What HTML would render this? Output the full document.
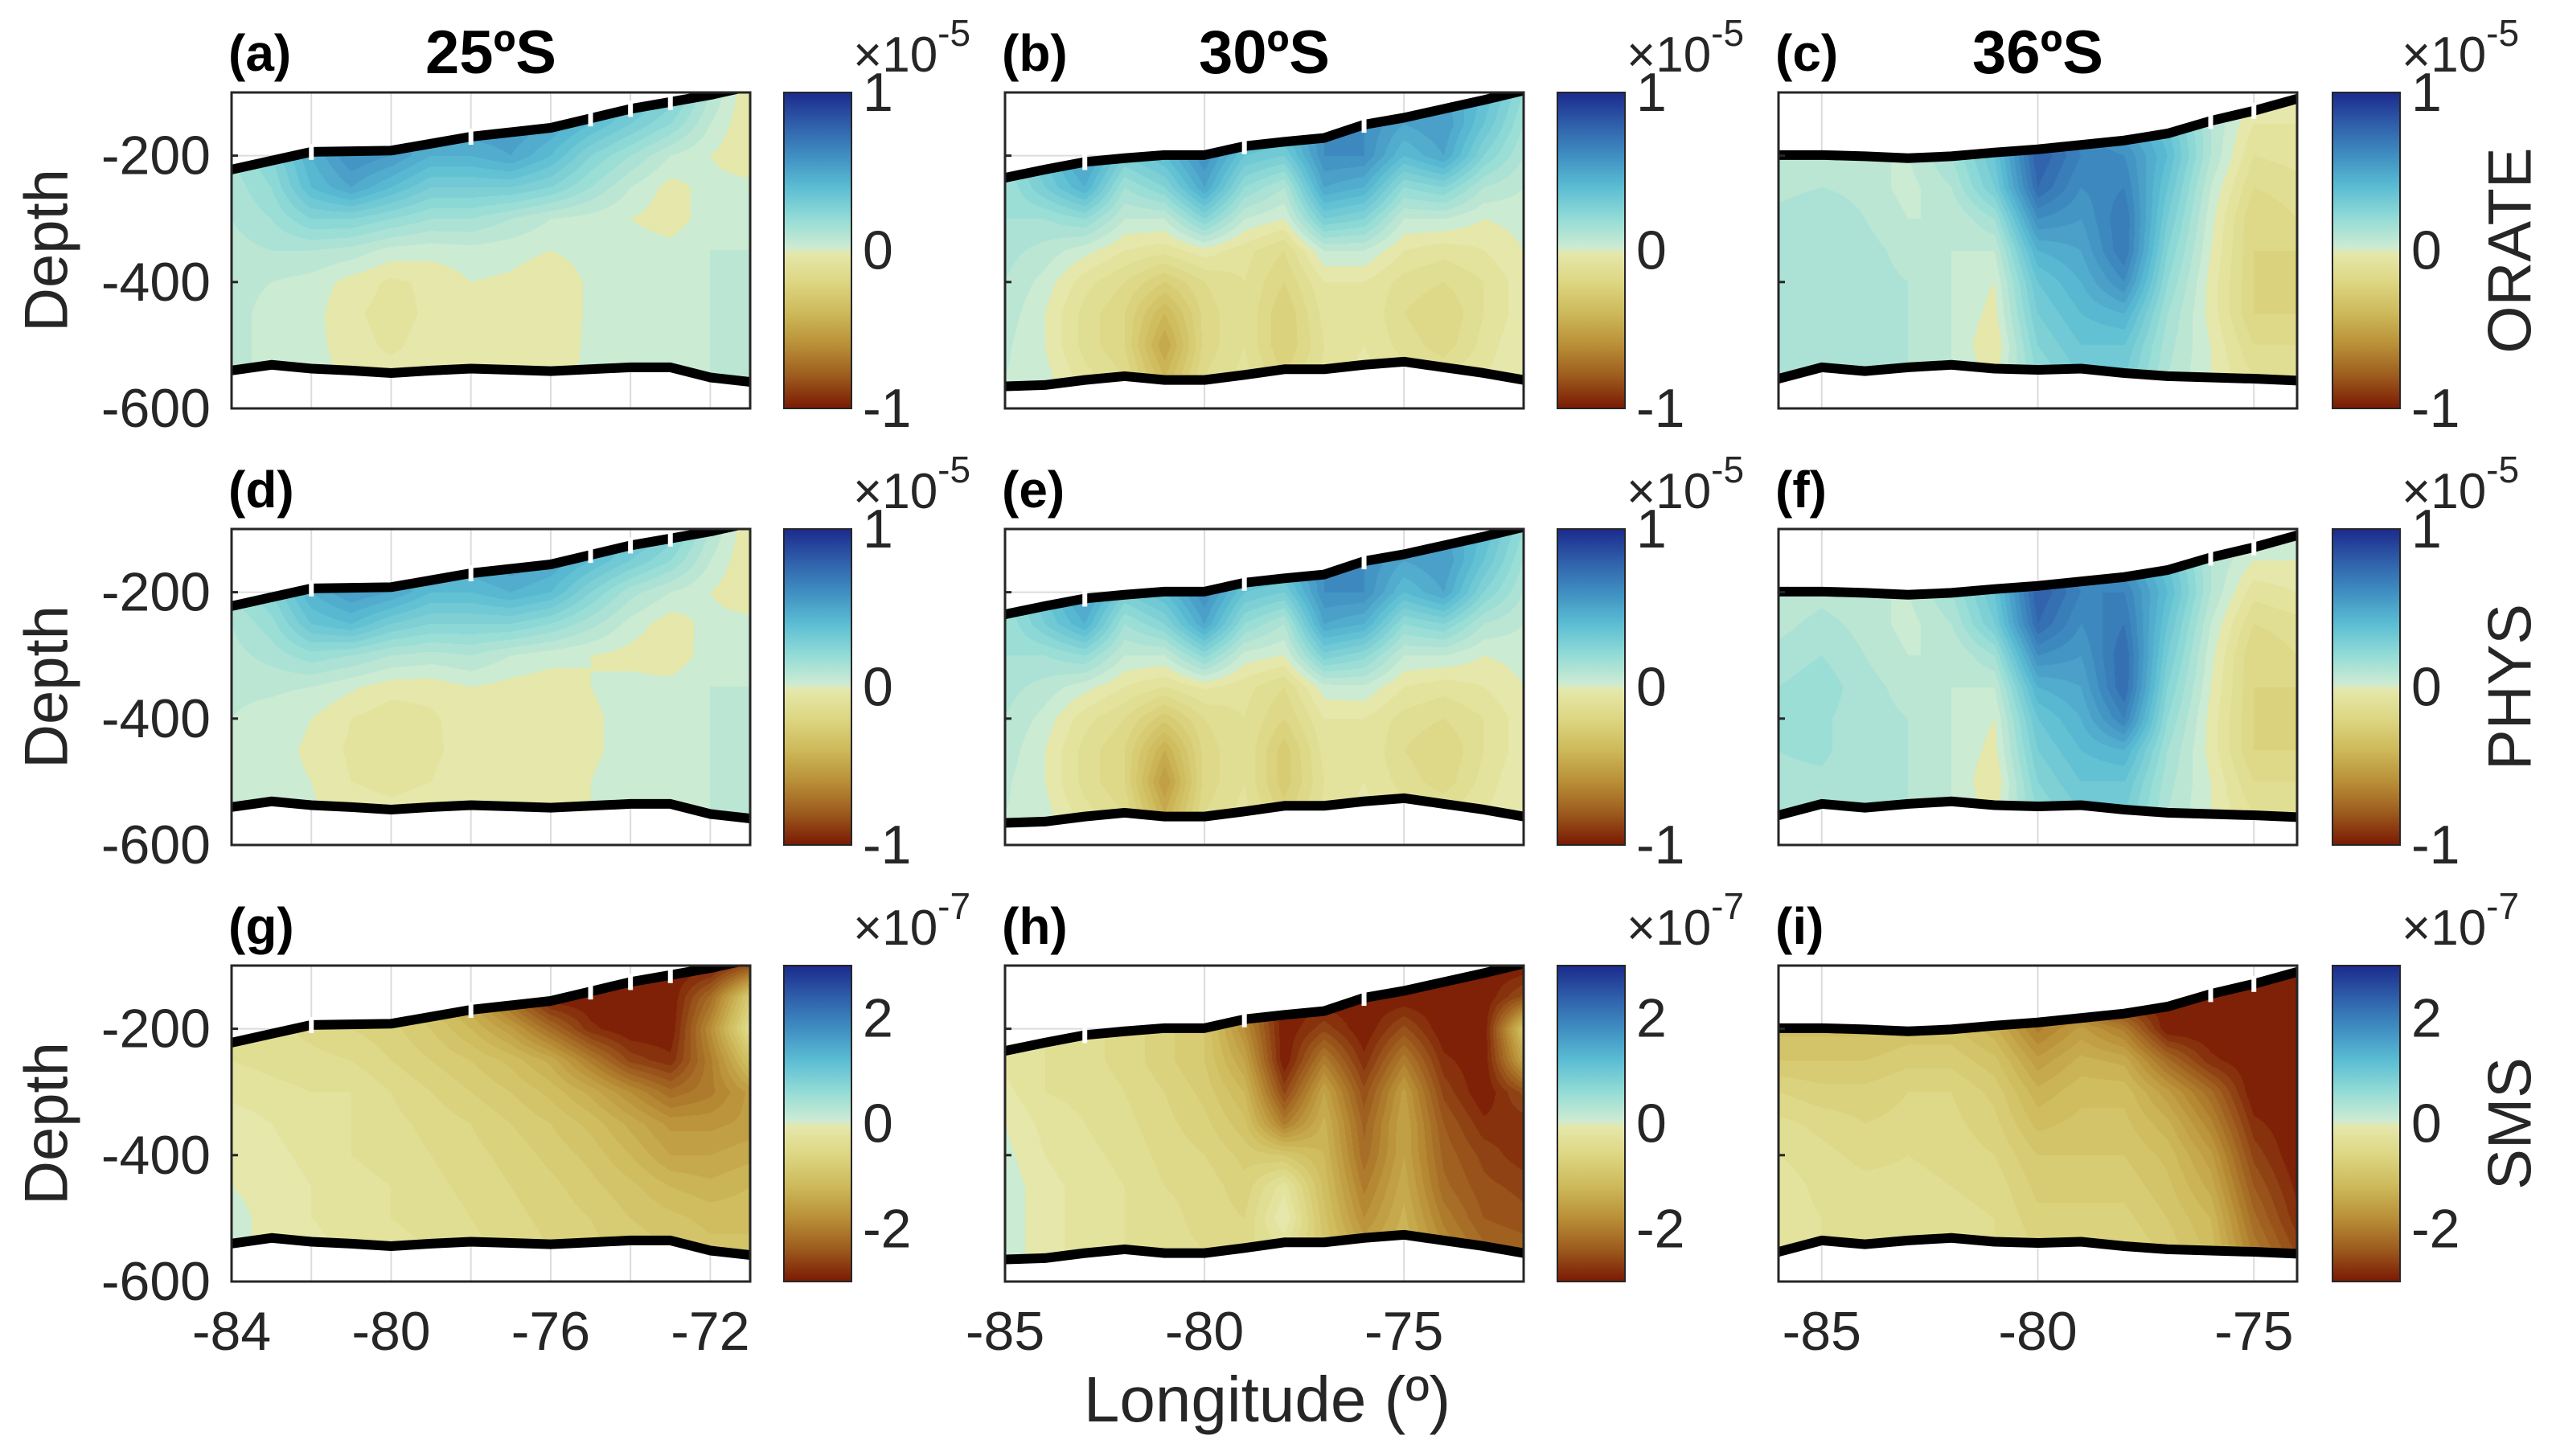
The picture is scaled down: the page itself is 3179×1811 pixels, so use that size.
<!DOCTYPE html>
<html><head><meta charset="utf-8"><style>
html,body{margin:0;padding:0;background:#fff;}
#wrap{position:relative;width:3179px;height:1811px;background:#fff;}
#cv{position:absolute;left:0;top:0;}
#fig{position:absolute;left:0;top:0;display:block;font-family:"Liberation Sans","DejaVu Sans",sans-serif;}
</style></head><body>
<div id="wrap">
<canvas id="cv" width="3179" height="1811"></canvas>
<svg id="fig" width="3179" height="1811" viewBox="0 0 3179 1811" xmlns="http://www.w3.org/2000/svg">
<defs>
<linearGradient id="cmap" x1="0" y1="0" x2="0" y2="1"></linearGradient>
</defs>
</svg>
</div>
<script>
// ---- data ----
const depths = [-100,-150,-200,-250,-300,-350,-400,-450,-500,-550];
const lonRangeA = [-84,-71];
const lonRangeB = [-85,-72];
const lonRangeC = [-86,-74];
const topA = [-222,-208,-194,-193,-192,-181,-170,-163,-156,-141,-126,-115,-104,-90];
const botA = [-540,-531,-537,-540,-544,-540,-537,-539,-541,-538,-535,-535,-551,-558];
const topB = [-235,-222,-210,-204,-199,-199,-185,-178,-172,-151,-140,-126,-112,-97];
const botB = [-565,-563,-555,-549,-555,-555,-547,-538,-538,-531,-526,-535,-544,-555];
const topC = [-199,-199,-201,-204,-201,-195,-190,-183,-176,-165,-145,-129,-110];
const botC = [-553,-535,-541,-535,-531,-537,-539,-537,-544,-549,-551,-553,-556];
const gapLonA = [-82,-78,-75,-74,-73];
const gapLonB = [-83,-79,-76];
const gapLonC = [-76,-75];
const xTicksA = [-84,-80,-76,-72];
const xTicksB = [-85,-80,-75];
const xTicksC = [-85,-80,-75];
const xGridA = [-82,-80,-78,-76,-74,-72];
const yTicks = [-200,-400,-600];
const cbTicks1 = [1,0,-1];
const cbTicks3 = [2,0,-2];
const colTitles = ['25ºS','30ºS','36ºS'];
const rowNames = ['ORATE','PHYS','SMS'];
const panelLetters = ['(a)','(b)','(c)','(d)','(e)','(f)','(g)','(h)','(i)'];

const orateA = [
[.2,.2,.3,.3,.4,.4,.45,.5,.5,.45,.4,.3,.1,-.05],
[.2,.25,.35,.45,.5,.55,.55,.55,.5,.4,.3,.2,.05,-.05],
[.15,.25,.45,.6,.55,.45,.45,.5,.4,.25,.15,.05,0,-.05],
[.12,.2,.4,.5,.4,.3,.3,.3,.25,.15,.05,-.02,.02,.02],
[.1,.15,.25,.25,.2,.15,.15,.1,.05,.03,0,-.03,.03,.05],
[.08,.1,.1,.08,.03,.02,.03,.02,0,.02,.03,.02,.05,.05],
[.06,.05,.03,-.02,-.06,-.04,0,-.01,-.04,.01,.03,.03,.05,.05],
[.06,.04,.02,-.04,-.07,-.04,-.01,-.01,-.04,.01,.03,.03,.05,.05],
[.06,.04,.02,-.03,-.06,-.03,-.01,0,-.03,.01,.03,.03,.05,.05],
[.06,.04,.03,-.02,-.03,-.02,0,0,-.02,.01,.03,.03,.05,.05]];
const orateB = [
[.2,.3,.4,.4,.5,.5,.5,.5,.55,.6,.55,.5,.4,.2],
[.2,.3,.45,.4,.5,.5,.5,.45,.6,.6,.5,.55,.35,.15],
[.2,.35,.55,.3,.4,.6,.35,.3,.6,.6,.4,.5,.25,.1],
[.15,.3,.45,.15,.25,.5,.2,.1,.5,.45,.2,.25,.1,.05],
[.15,.15,.2,.05,.05,.25,.05,0,.3,.25,.05,.05,0,.02],
[.12,.08,.02,-.05,-.08,-.02,-.08,-.15,.05,.05,-.05,-.08,-.05,0],
[.1,.03,-.08,-.15,-.25,-.15,-.1,-.2,-.05,-.05,-.12,-.15,-.1,-.02],
[.08,0,-.12,-.2,-.4,-.18,-.1,-.25,-.08,-.05,-.15,-.2,-.1,-.02],
[.06,0,-.12,-.2,-.5,-.18,-.1,-.25,-.1,-.05,-.12,-.18,-.08,0],
[.05,.02,-.08,-.15,-.4,-.15,-.08,-.2,-.08,-.03,-.08,-.1,-.05,0]];
const orateC = [
[.1,.1,.1,.1,.1,.2,.5,.5,.4,.3,.1,0,-.05],
[.1,.1,.1,.1,.15,.3,.7,.6,.5,.35,.1,-.05,-.05],
[.05,.08,.05,.05,.15,.35,.8,.65,.6,.4,.1,-.1,-.08],
[.08,.1,.08,.03,.1,.3,.75,.6,.65,.35,.05,-.15,-.12],
[.12,.15,.1,.05,.05,.15,.6,.55,.7,.3,.02,-.2,-.15],
[.12,.15,.12,.08,.05,.05,.45,.5,.7,.25,0,-.2,-.2],
[.12,.14,.12,.1,.05,0,.35,.45,.6,.2,-.02,-.2,-.25],
[.12,.14,.12,.1,.05,-.02,.3,.4,.45,.15,-.02,-.2,-.2],
[.12,.12,.12,.1,.05,-.05,.25,.35,.35,.12,0,-.15,-.15],
[.12,.12,.12,.1,.05,-.02,.2,.3,.3,.1,0,-.1,-.1]];
const physA = [
[.2,.2,.3,.3,.4,.4,.45,.5,.5,.45,.4,.3,.1,-.05],
[.2,.25,.35,.45,.5,.5,.5,.55,.5,.4,.3,.2,.05,-.05],
[.15,.25,.45,.55,.5,.4,.4,.45,.4,.25,.12,.05,0,-.05],
[.1,.18,.35,.4,.3,.25,.25,.25,.2,.12,.03,-.03,.02,.02],
[.08,.12,.18,.15,.1,.08,.1,.05,.02,0,-.02,-.04,.03,.05],
[.06,.06,.05,.01,-.03,-.03,0,-.02,-.03,0,.02,.02,.05,.05],
[.05,.03,0,-.05,-.08,-.06,-.02,-.03,-.05,-.01,.02,.03,.05,.05],
[.05,.02,-.01,-.06,-.08,-.06,-.03,-.03,-.05,-.01,.02,.03,.05,.05],
[.05,.02,0,-.05,-.06,-.05,-.02,-.02,-.04,0,.03,.03,.05,.05],
[.05,.03,.01,-.03,-.04,-.03,-.01,-.01,-.02,0,.03,.03,.05,.05]];
const physB = [
[.2,.3,.4,.4,.5,.5,.5,.5,.55,.6,.55,.5,.4,.2],
[.2,.3,.45,.4,.5,.5,.5,.45,.6,.6,.5,.55,.35,.15],
[.2,.35,.55,.3,.4,.6,.35,.3,.6,.6,.4,.5,.25,.1],
[.15,.3,.45,.15,.25,.5,.2,.1,.5,.45,.2,.25,.1,.05],
[.15,.15,.2,.05,.05,.22,.03,0,.28,.22,.05,.05,0,.02],
[.12,.08,.02,-.05,-.1,-.04,-.08,-.15,.03,.04,-.05,-.08,-.05,0],
[.1,.03,-.08,-.15,-.28,-.15,-.1,-.2,-.05,-.05,-.12,-.15,-.1,-.02],
[.08,0,-.12,-.2,-.45,-.18,-.1,-.28,-.08,-.05,-.15,-.2,-.1,-.02],
[.06,0,-.12,-.2,-.55,-.18,-.1,-.28,-.1,-.05,-.12,-.18,-.08,0],
[.05,.02,-.08,-.15,-.45,-.15,-.08,-.22,-.08,-.03,-.08,-.1,-.05,0]];
const physC = [
[.1,.1,.1,.1,.1,.2,.5,.5,.4,.3,.1,.05,.05],
[.1,.1,.1,.1,.15,.3,.7,.6,.55,.35,.1,0,0],
[.05,.08,.05,.05,.15,.35,.8,.65,.65,.4,.1,-.08,-.05],
[.08,.12,.08,.03,.1,.3,.75,.6,.7,.35,.05,-.15,-.12],
[.12,.15,.1,.05,.05,.15,.6,.55,.75,.3,.02,-.2,-.15],
[.15,.18,.12,.08,.05,.05,.45,.5,.75,.25,0,-.2,-.2],
[.15,.16,.12,.1,.05,0,.35,.45,.65,.2,-.02,-.2,-.25],
[.15,.16,.12,.1,.05,-.02,.3,.4,.45,.15,-.02,-.2,-.2],
[.14,.14,.12,.1,.05,-.05,.25,.35,.35,.12,0,-.15,-.15],
[.12,.12,.12,.1,.05,-.02,.2,.3,.3,.1,0,-.1,-.1]];
const smsA = [
[-.3,-.4,-.5,-.6,-.8,-1.2,-1.8,-2.8,-3,-3,-3,-3,-3,-2.5],
[-.3,-.4,-.5,-.6,-.8,-1.1,-1.5,-2.3,-3,-3,-3,-3,-2.2,-.8],
[-.3,-.4,-.5,-.6,-.7,-.9,-1.2,-1.6,-2.2,-2.8,-3,-3,-1.8,-.4],
[-.3,-.35,-.4,-.45,-.6,-.75,-.9,-1.1,-1.4,-2,-2.6,-2.8,-2,-1],
[-.2,-.25,-.3,-.3,-.45,-.6,-.75,-.9,-1.1,-1.4,-1.8,-2.2,-2,-1.6],
[-.05,-.15,-.25,-.3,-.4,-.5,-.6,-.75,-.9,-1.1,-1.4,-1.7,-1.7,-1.6],
[0,-.1,-.2,-.3,-.35,-.45,-.55,-.65,-.8,-.95,-1.2,-1.5,-1.5,-1.4],
[0,-.05,-.15,-.25,-.3,-.4,-.5,-.6,-.7,-.85,-1,-1.2,-1.3,-1.2],
[.05,-.05,-.15,-.2,-.3,-.35,-.45,-.55,-.65,-.75,-.9,-1,-1.1,-1.1],
[.05,-.05,-.1,-.2,-.25,-.3,-.4,-.5,-.6,-.7,-.8,-.9,-1,-1]];
const smsB = [
[-.3,-.3,-.4,-.5,-.6,-.8,-2,-3,-3,-3,-3,-3,-3,-3],
[-.3,-.3,-.4,-.5,-.6,-.8,-2,-3,-3,-3,-3,-3,-3,-2.5],
[-.3,-.3,-.4,-.5,-.7,-.9,-1.8,-3,-2.6,-3,-2.5,-3,-3,-1],
[-.2,-.3,-.4,-.5,-.7,-.9,-1.5,-3,-2,-2.8,-2,-2.8,-3,-1.5],
[-.1,-.3,-.35,-.45,-.6,-.8,-1.2,-2.6,-1.5,-2.5,-1.6,-2.6,-3,-2.5],
[0,-.2,-.3,-.4,-.55,-.7,-1,-2,-1.3,-2.3,-1.5,-2.4,-2.8,-2.8],
[.05,-.15,-.25,-.35,-.5,-.6,-.8,-.9,-1.2,-2.2,-1.5,-2.3,-2.6,-2.8],
[.1,-.1,-.2,-.3,-.45,-.5,-.7,-.2,-1.1,-2,-1.4,-2.2,-2.5,-2.6],
[.1,-.1,-.2,-.3,-.4,-.5,-.6,0,-1,-1.8,-1.3,-2,-2.4,-2.5],
[.1,-.1,-.2,-.3,-.4,-.45,-.5,-.3,-.9,-1.5,-1.2,-1.8,-2.2,-2.3]];
const smsC = [
[-1.2,-1.2,-1.2,-1.2,-1.3,-1.5,-2.2,-2.5,-3,-3,-3,-3,-3],
[-1.2,-1.2,-1.2,-1.2,-1.3,-1.5,-2.2,-2.5,-3,-3,-3,-3,-3],
[-1.1,-1.1,-1.1,-1,-1,-1.3,-2,-1.6,-2,-3,-3,-3,-3],
[-.9,-.9,-.9,-.8,-.8,-1,-1.6,-1.3,-1.4,-2.2,-2.8,-3,-3],
[-.6,-.7,-.7,-.6,-.6,-.8,-1.3,-1.1,-1.1,-1.6,-2.2,-3,-3],
[-.4,-.5,-.6,-.55,-.55,-.7,-1.1,-1,-1,-1.3,-1.9,-2.8,-3],
[-.3,-.4,-.5,-.45,-.5,-.6,-.9,-.9,-.9,-1.1,-1.6,-2.6,-3],
[-.2,-.35,-.4,-.4,-.45,-.5,-.8,-.8,-.8,-1,-1.4,-2.4,-2.9],
[-.2,-.3,-.35,-.35,-.4,-.45,-.7,-.7,-.7,-.9,-1.2,-2.2,-2.8],
[-.2,-.3,-.35,-.35,-.4,-.45,-.6,-.6,-.6,-.8,-1.1,-2,-2.6]];

// ---- layout ----
const NS='http://www.w3.org/2000/svg';
const svg=document.getElementById('fig');
const colX=[288,1250,2212], PW=645;
const rowY=[115,658,1201], PH=393;
const cbX=[975,1937,2901], CBW=84;
const stops=[[1,'#1b2a8c'],[.8,'#2f5eaa'],[.6,'#3f8fc2'],[.4,'#5bbdd3'],[.2,'#93dcd6'],[.02,'#cdebd3'],[-.02,'#e5e8ab'],[-.2,'#ddd682'],[-.4,'#cdb95a'],[-.6,'#b98f37'],[-.8,'#9c5a1d'],[-1,'#7a1903']];
function hex(c){return [parseInt(c.slice(1,3),16),parseInt(c.slice(3,5),16),parseInt(c.slice(5,7),16)];}
function rgbOf(t){
  t=Math.max(-1,Math.min(1,t));
  for(let i=0;i<stops.length-1;i++){
    const [v0,c0]=stops[i],[v1,c1]=stops[i+1];
    if(t<=v0&&t>=v1){const f=(v0-t)/(v0-v1);const a=hex(c0),b=hex(c1);
      return a.map((x,k)=>Math.round(x+(b[k]-x)*f));}
  }
  return hex(stops[stops.length-1][1]);
}
const grad=document.getElementById('cmap');
stops.forEach(s=>{const st=document.createElementNS(NS,'stop');st.setAttribute('offset',((1-s[0])/2));st.setAttribute('stop-color',s[1]);grad.appendChild(st);});

function el(tag,attrs,parent){const e=document.createElementNS(NS,tag);for(const k in attrs)e.setAttribute(k,attrs[k]);(parent||svg).appendChild(e);return e;}
function interp(arr,lon0,l){const f=l-lon0;const i=Math.max(0,Math.min(arr.length-2,Math.floor(f)));const t=f-i;return arr[i]+(arr[i+1]-arr[i])*t;}

const lonRanges=[lonRangeA,lonRangeB,lonRangeC];
const tops=[topA,topB,topC], bots=[botA,botB,botC];
const gaps=[gapLonA,gapLonB,gapLonC];
const xTicksAll=[xTicksA,xTicksB,xTicksC];
const fields=[[orateA,orateB,orateC],[physA,physB,physC],[smsA,smsB,smsC]];
const vmax=[1,1,3];

// fields on canvas
const ctx=document.getElementById('cv').getContext('2d');
for(let r=0;r<3;r++){
  for(let c=0;c<3;c++){
    const x0=colX[c], y0=rowY[r], lr=lonRanges[c];
    const F=fields[r][c], nI=F[0].length, nJ=F.length;
    const img=ctx.createImageData(PW,PH);
    for(let px=0;px<PW;px++){
      const lon=lr[0]+(px+0.5)/PW*(lr[1]-lr[0]);
      const dTop=Math.min(interp(tops[c],lr[0],lon),-100);
      const dBot=interp(bots[c],lr[0],lon);
      let fi=Math.max(0,Math.min(nI-1.0001,lon-lr[0]));
      const i0=Math.floor(fi), ti=fi-i0;
      for(let py=0;py<PH;py++){
        const d=-100-(py+0.5)/PH*500;
        if(d>dTop||d<dBot)continue;
        let fj=Math.max(0,Math.min(nJ-1.0001,(-100-d)/50));
        const j0=Math.floor(fj), tj=fj-j0;
        const v=(F[j0][i0]*(1-ti)+F[j0][i0+1]*ti)*(1-tj)+(F[j0+1][i0]*(1-ti)+F[j0+1][i0+1]*ti)*tj;
        let t=v/vmax[r];
        t=(Math.floor(t*20)+0.5)/20;
        const col=rgbOf(t);
        const k=(py*PW+px)*4;
        img.data[k]=col[0];img.data[k+1]=col[1];img.data[k+2]=col[2];img.data[k+3]=255;
      }
    }
    ctx.putImageData(img,x0,y0);
  }
}

for(let r=0;r<3;r++){
  for(let c=0;c<3;c++){
    const x0=colX[c], y0=rowY[r], lr=lonRanges[c];
    const xs=l=>x0+(l-lr[0])/(lr[1]-lr[0])*PW;
    const ys=d=>y0+(-100-d)/500*PH;
    const tp=tops[c], bt=bots[c];
    const g=el('g',{});
    
    
    const pcid='pclip'+r+c;
    const pcp=el('clipPath',{id:pcid},g);
    el('rect',{x:x0,y:y0,width:PW,height:PH},pcp);
    const grid=c===0?xGridA:xTicksAll[c];
    grid.forEach(l=>{
      const yt=ys(Math.min(interp(tp,lr[0],l),-100)), yb=ys(interp(bt,lr[0],l));
      [[y0,yt],[yb,y0+PH]].forEach(s=>{ if(s[1]>s[0]){
        const ln=el('line',{x1:xs(l),x2:xs(l),y1:s[0],y2:s[1],stroke:'#dcdcdc','stroke-width':2},g);
        
        }});
    });
    {let xe=x0;for(let l=lr[0];l<=lr[1];l+=0.05){if(interp(tp,lr[0],l)<-200)xe=xs(l);else break;}
     if(xe>x0){const ln=el('line',{x1:x0,x2:xe,y1:ys(-200),y2:ys(-200),stroke:'#dcdcdc','stroke-width':2},g);
      
      }}
    const lg=el('g',{'clip-path':'url(#'+pcid+')'},g);
    const tl=el('polyline',{points:tp.map((d,i)=>xs(lr[0]+i)+','+ys(d)).join(' '),fill:'none',stroke:'#000','stroke-width':12,'stroke-linejoin':'round'},lg);
    
    
    gaps[c].forEach(l=>{const yy=ys(interp(tp,lr[0],l));
      const gp=el('rect',{x:xs(l)-3,y:yy-10,width:6,height:20,fill:'#fff'},lg);
      
      });
    const bl=el('polyline',{points:bt.map((d,i)=>xs(lr[0]+i)+','+ys(d)).join(' '),fill:'none',stroke:'#000','stroke-width':12,'stroke-linejoin':'round'},lg);
    
    
    const box=el('rect',{x:x0,y:y0,width:PW,height:PH,fill:'none',stroke:'#262626','stroke-width':3},g);
    
    
    yTicks.forEach(d=>{
      const tk=el('line',{x1:x0,x2:x0+8,y1:ys(d),y2:ys(d),stroke:'#262626','stroke-width':3},g);
      
      
      if(c===0){const t=el('text',{x:x0-26,y:ys(d),'font-size':68,'text-anchor':'end','dominant-baseline':'central',fill:'#262626'},g);
        t.textContent=String(d);
        
        }
    });
    if(r===2){xTicksAll[c].forEach(l=>{const t=el('text',{x:xs(l),y:1656,'font-size':68,'text-anchor':'middle','dominant-baseline':'central',fill:'#262626'},g);
      t.textContent=l;
      
      });}
    const pl=el('text',{x:x0-4,y:y0-27,'font-size':64,'font-weight':'bold',fill:'#000'},g);
    pl.textContent=panelLetters[r*3+c];
    
    
    if(r===0){const tt=el('text',{x:x0+PW/2,y:y0-24,'font-size':76,'font-weight':'bold','text-anchor':'middle',fill:'#000'},g);
      tt.textContent=colTitles[c];
      
      }
    const cb=el('rect',{x:cbX[c],y:y0,width:CBW,height:PH,fill:'url(#cmap)',stroke:'#262626','stroke-width':2},g);
    
    
    const cbt=r===2?cbTicks3:cbTicks1;
    cbt.forEach(v=>{const yy=y0+(vmax[r]-v)/(2*vmax[r])*PH;
      const t=el('text',{x:cbX[c]+98,y:yy,'font-size':68,'dominant-baseline':'central',fill:'#262626'},g);
      t.textContent=v;
      
      });
    const ex=el('text',{x:cbX[c]+86,y:y0-26,'font-size':62,fill:'#262626'},g);
    
    
    const t1=el('tspan',{},ex);t1.textContent='×10';
    const t2=el('tspan',{dy:-32,'font-size':46},ex);t2.textContent=r===2?'-7':'-5';
  }
  const dl=el('text',{x:0,y:0,'font-size':76,'text-anchor':'middle','dominant-baseline':'central',fill:'#262626',transform:'translate(58,'+(rowY[r]+PH/2)+') rotate(-90)'});
  dl.textContent='Depth';
  
  
  const rl=el('text',{x:0,y:0,'font-size':76,'text-anchor':'middle','dominant-baseline':'central',fill:'#262626',transform:'translate(3122,'+(rowY[r]+PH/2)+') rotate(-90)'});
  rl.textContent=rowNames[r];
  
  
}
const xt=el('text',{x:1576,y:1768,'font-size':80,'text-anchor':'middle',fill:'#262626'});
xt.textContent='Longitude (º)';


</script>
</body></html>
